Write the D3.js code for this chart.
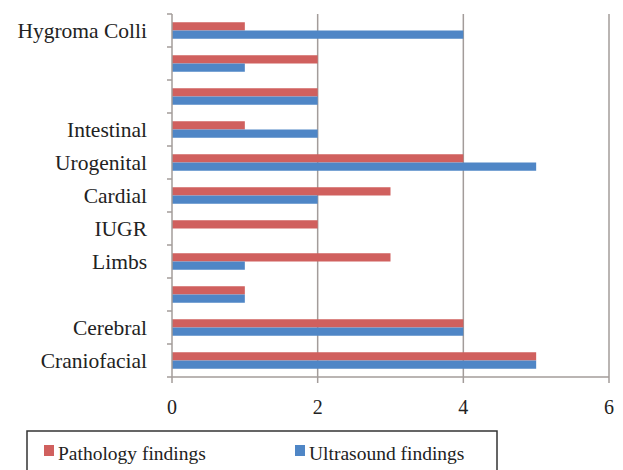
<!DOCTYPE html>
<html>
<head>
<meta charset="utf-8">
<script src="https://cdn.jsdelivr.net/npm/d3@7"></script>
<style>
  body { margin: 0; background: #fff; }
  svg { display: block; }
  text { font-family: "Liberation Serif", "DejaVu Serif", serif; fill: #222; }
</style>
</head>
<body>
<div id="chart"></div>
<script>
// categories, bottom to top (blank rows have no label in the original)
const categoryIds = ['craniofacial', 'cerebral', 'blank1', 'limbs', 'iugr', 'cardial',
  'urogenital', 'intestinal', 'blank2', 'blank3', 'hygroma'];
const categoryLabels = ['Craniofacial', 'Cerebral', '', 'Limbs', 'IUGR', 'Cardial',
  'Urogenital', 'Intestinal', '', '', 'Hygroma Colli'];
const pathologyValues = [5, 4, 1, 3, 2, 3, 4, 1, 2, 2, 1];
const ultrasoundValues = [5, 4, 1, 1, 0, 2, 5, 2, 2, 1, 4];
const seriesNames = ['Pathology findings', 'Ultrasound findings'];
const xTicks = [0, 2, 4, 6];

const colors = ['#d0605e', '#4f86c6'];
const gridColor = '#a39c9a';

const width = 623, height = 470;
const margin = { top: 14, right: 14, bottom: 93, left: 172 };

const svg = d3.select('#chart').append('svg')
  .attr('width', width)
  .attr('height', height);

const x = d3.scaleLinear()
  .domain([0, 6])
  .range([margin.left, width - margin.right]);

// first category at the bottom
const y = d3.scaleBand()
  .domain(categoryIds)
  .range([height - margin.bottom, margin.top])
  .paddingInner(0.5)
  .paddingOuter(0.25);

const inner = d3.scaleBand()
  .domain([0, 1])
  .range([0, y.bandwidth()]);

// vertical gridlines
svg.append('g')
  .selectAll('line')
  .data(xTicks.filter(d => d > 0))
  .join('line')
  .attr('x1', d => x(d))
  .attr('x2', d => x(d))
  .attr('y1', margin.top)
  .attr('y2', height - margin.bottom)
  .attr('stroke', gridColor)
  .attr('stroke-width', 1.5);

// bars
const rows = categoryIds.map((id, i) => ({ id, values: [pathologyValues[i], ultrasoundValues[i]] }));

svg.append('g')
  .selectAll('g')
  .data(rows)
  .join('g')
  .attr('transform', d => `translate(0,${y(d.id)})`)
  .selectAll('rect')
  .data(d => d.values.map((v, s) => ({ v, s })))
  .join('rect')
  .attr('x', x(0))
  .attr('y', d => inner(d.s))
  .attr('width', d => x(d.v) - x(0))
  .attr('height', inner.bandwidth())
  .attr('fill', d => colors[d.s]);

// y axis: line with outward ticks at band boundaries
const yBottom = height - margin.bottom;
const step = (yBottom - margin.top) / categoryIds.length;
const yAxis = svg.append('g');
yAxis.append('line')
  .attr('x1', x(0)).attr('x2', x(0))
  .attr('y1', margin.top).attr('y2', yBottom)
  .attr('stroke', gridColor).attr('stroke-width', 1.5);
yAxis.selectAll('line.tick')
  .data(d3.range(categoryIds.length + 1))
  .join('line')
  .attr('class', 'tick')
  .attr('x1', x(0) - 5).attr('x2', x(0))
  .attr('y1', i => yBottom - i * step)
  .attr('y2', i => yBottom - i * step)
  .attr('stroke', gridColor).attr('stroke-width', 1.5);
yAxis.selectAll('text')
  .data(rows)
  .join('text')
  .attr('x', 147)
  .attr('y', d => y(d.id) + y.bandwidth() / 2)
  .attr('dy', '0.33em')
  .attr('text-anchor', 'end')
  .attr('font-size', 21.5)
  .text((d, i) => categoryLabels[i]);

// x axis
const xAxis = svg.append('g');
xAxis.append('line')
  .attr('x1', x(0)).attr('x2', x(6))
  .attr('y1', yBottom).attr('y2', yBottom)
  .attr('stroke', gridColor).attr('stroke-width', 1.5);
xAxis.selectAll('line.tick')
  .data(xTicks)
  .join('line')
  .attr('class', 'tick')
  .attr('x1', d => x(d)).attr('x2', d => x(d))
  .attr('y1', yBottom).attr('y2', yBottom + 6)
  .attr('stroke', gridColor).attr('stroke-width', 1.5);
xAxis.selectAll('text')
  .data(xTicks)
  .join('text')
  .attr('x', d => x(d))
  .attr('y', 414)
  .attr('text-anchor', 'middle')
  .attr('font-size', 20)
  .text(d => d);

// legend
const legend = svg.append('g');
legend.append('rect')
  .attr('x', 27).attr('y', 431)
  .attr('width', 470).attr('height', 50)
  .attr('fill', 'none')
  .attr('stroke', '#333')
  .attr('stroke-width', 1.5);
const legendX = [44, 295];
seriesNames.forEach((name, i) => {
  legend.append('rect')
    .attr('x', legendX[i]).attr('y', 445)
    .attr('width', 10).attr('height', 11)
    .attr('fill', colors[i]);
  legend.append('text')
    .attr('x', legendX[i] + 14).attr('y', 460)
    .attr('font-size', 19.5)
    .text(name);
});
</script>
</body>
</html>
